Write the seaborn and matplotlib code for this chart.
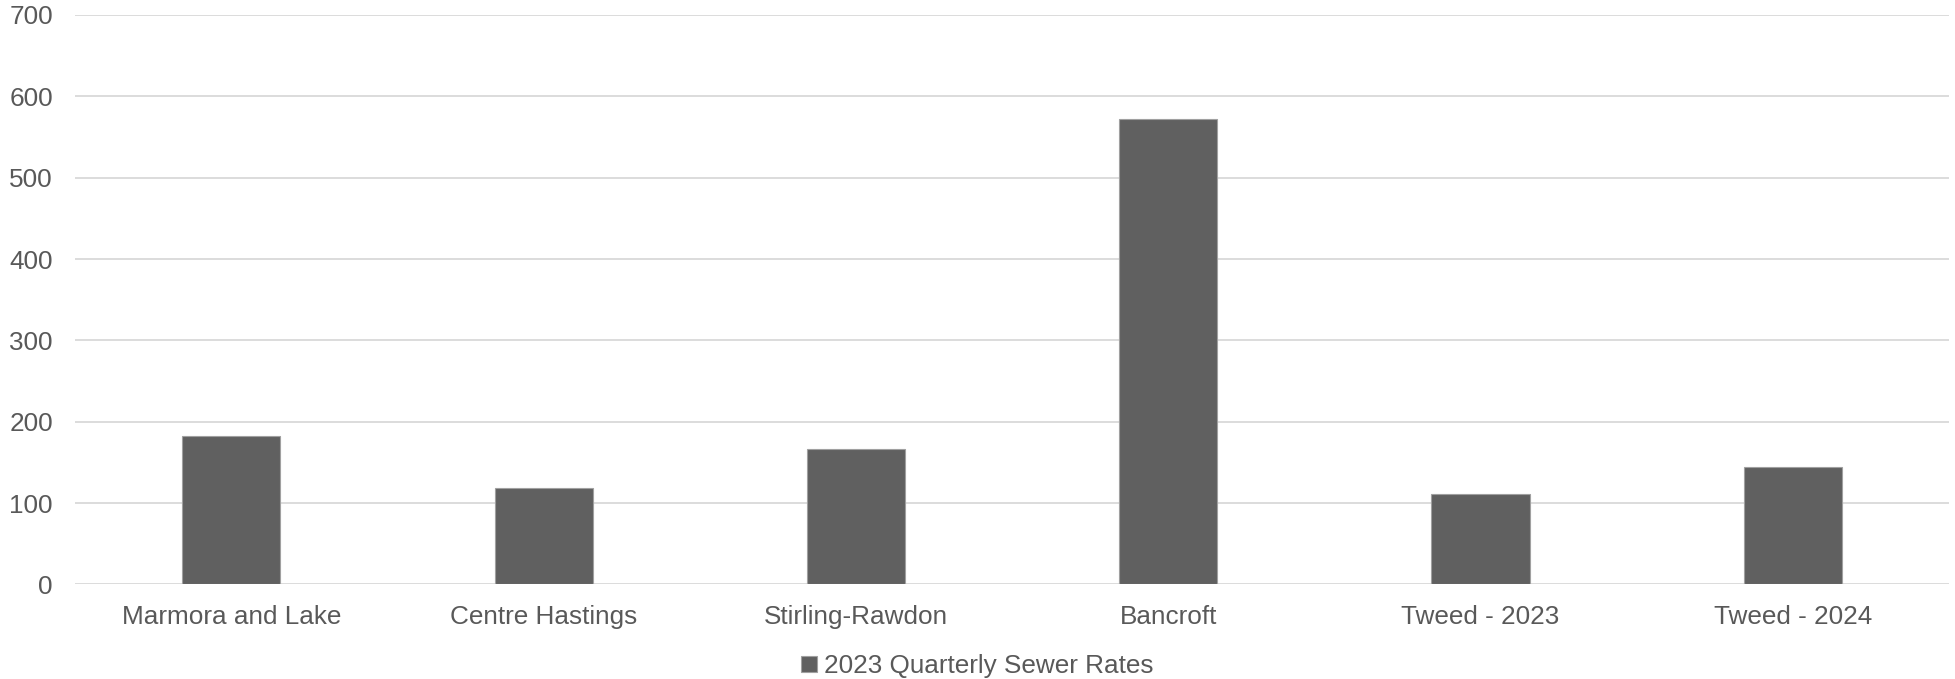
import matplotlib
matplotlib.use("Agg")
import matplotlib.pyplot as plt
import seaborn as sns
import pandas as pd

# ── Data ─────────────────────────────────────────────────────────────────────
MUNICIPALITIES = ["Marmora and Lake", "Centre Hastings", "Stirling-Rawdon",
                  "Bancroft", "Tweed - 2023", "Tweed - 2024"]
SEWER_RATES    = [183, 119, 166, 572, 111, 144]
SERIES_NAME    = "2023 Quarterly Sewer Rates"
Y_TICKS        = [0, 100, 200, 300, 400, 500, 600, 700]

BAR_COLOR  = "#606060"
TEXT_COLOR = "#595959"
GRID_COLOR = "#d9d9d9"

sns.set_theme(style="white")
plt.rcParams["font.family"] = ["Liberation Sans", "DejaVu Sans"]

df = pd.DataFrame({"Municipality": MUNICIPALITIES, "Rate": SEWER_RATES})

fig = plt.figure(figsize=(19.55, 6.79), dpi=100)
ax = fig.add_axes([0.0384, 0.1392, 0.9585, 0.8388])

sns.barplot(data=df, x="Municipality", y="Rate", color=BAR_COLOR,
            saturation=1, width=0.314, edgecolor="#a0a0a0", linewidth=0.8,
            label=SERIES_NAME, ax=ax, zorder=3)

ax.set_ylim(0, 700)
ax.set_xlim(-0.5, len(MUNICIPALITIES) - 0.5)
ax.set_yticks(Y_TICKS)
ax.yaxis.grid(True, color=GRID_COLOR, linewidth=1.3, zorder=0)
ax.set_axisbelow(True)
for s in ax.spines.values():
    s.set_visible(False)
ax.set_xlabel("")
ax.set_ylabel("")
ax.tick_params(axis="y", length=0, pad=16, labelsize=18.8, labelcolor=TEXT_COLOR)
ax.tick_params(axis="x", length=0, pad=14.5, labelsize=18.8, labelcolor=TEXT_COLOR)

ax.legend(loc="lower center", bbox_to_anchor=(0.5, -0.018),
          bbox_transform=fig.transFigure, frameon=False, fontsize=18.8,
          labelcolor=TEXT_COLOR, handlelength=0.6, handleheight=0.6,
          handletextpad=0.3, borderpad=0)

fig.savefig("out.png", dpi=100)
plt.close(fig)
